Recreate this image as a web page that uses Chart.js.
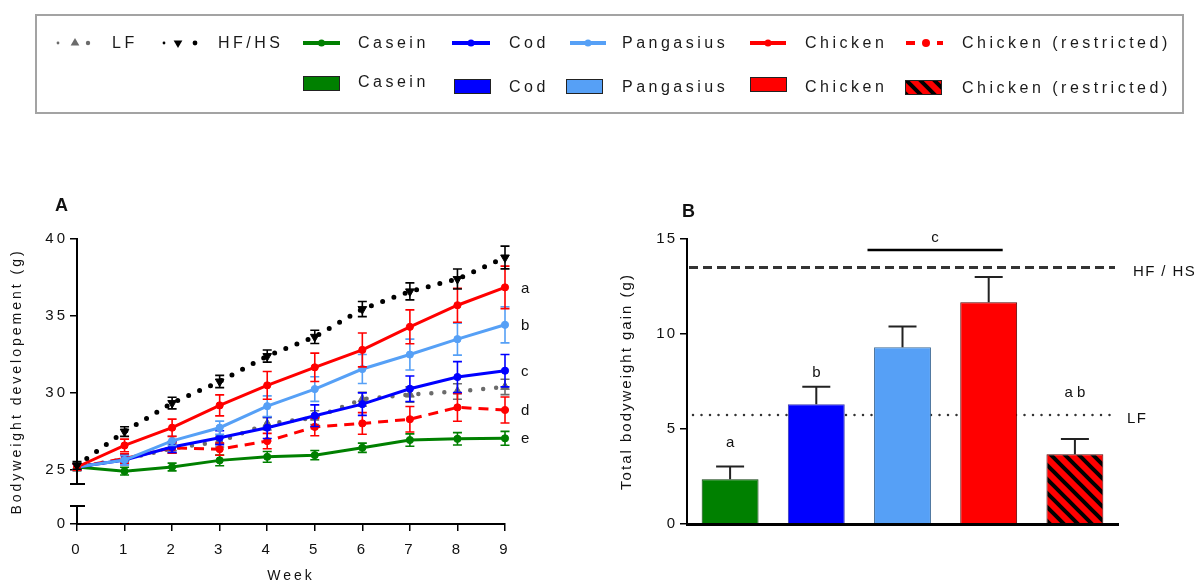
<!DOCTYPE html>
<html>
<head>
<meta charset="utf-8">
<script src="https://cdn.jsdelivr.net/npm/chart.js@4/dist/chart.umd.min.js"></script>
<style>
body{margin:0;background:#fff;width:1201px;height:581px;overflow:hidden;position:relative;font-family:"Liberation Sans",Arial,sans-serif}
#legendBox{position:absolute;left:35px;top:14px;width:1145px;height:96px;border:2px solid #a3a3a3;box-sizing:content-box}
#legendMarks{position:absolute;left:0;top:0}
.lbl{position:absolute;font-size:16px;letter-spacing:3.5px;color:#1a1a1a;white-space:nowrap;line-height:20px;transform:translateY(-50%)}
#chartA{position:absolute;left:0;top:190px}
#chartB{position:absolute;left:590px;top:190px}
</style>
</head>
<body>
<div id="legendBox"></div>
<canvas id="legendMarks" width="1201" height="120"></canvas>
<canvas id="chartA" width="560" height="391"></canvas>
<canvas id="chartB" width="611" height="391"></canvas>
<script>
// weekly body weight (g), mean and SD per diet
const weeks = ['0','1','2','3','4','5','6','7','8','9'];
const weightTicks = [25, 30, 35, 40];
const weightZero = 21.5;            // the "0" tick sits below the axis break
const axisBreak = [22.67, 24.1];    // gap cut out of the y axis

const lfMean = [25.2, 25.7, 26.4, 26.85, 28.0, 28.4, 29.6, 29.9, 30.1, 30.4];
const lfSd = [0.25, 0.3, 0.3, 0.35, 0.4, 0.45, 0.45, 0.5, 0.5, 0.5];
const hfMean = [25.3, 27.5, 29.35, 30.75, 32.4, 33.65, 35.45, 36.6, 37.4, 38.8];
const hfSd = [0.25, 0.31, 0.38, 0.4, 0.39, 0.43, 0.49, 0.55, 0.65, 0.74];
const caseinMean = [25.2, 24.93, 25.2, 25.63, 25.86, 25.97, 26.45, 26.95, 27.03, 27.06];
const caseinSd = [0.2, 0.25, 0.25, 0.35, 0.35, 0.3, 0.3, 0.4, 0.4, 0.45];
const codMean = [25.2, 25.65, 26.5, 27.1, 27.75, 28.53, 29.28, 30.28, 31.04, 31.45];
const codSd = [0.2, 0.3, 0.35, 0.45, 0.7, 0.7, 0.73, 0.83, 1.0, 1.05];
const pangasiusMean = [25.2, 25.65, 26.9, 27.75, 29.15, 30.26, 31.56, 32.5, 33.5, 34.43];
const pangasiusSd = [0.2, 0.3, 0.3, 0.43, 0.67, 0.8, 0.94, 1.0, 1.04, 1.17];
const chickenMean = [25.2, 26.6, 27.75, 29.2, 30.5, 31.67, 32.8, 34.3, 35.7, 36.86];
const chickenSd = [0.2, 0.41, 0.56, 0.68, 0.9, 0.92, 1.1, 1.1, 1.1, 1.38];
const restrictedMean = [25.2, 25.75, 26.45, 26.36, 26.88, 27.8, 28.03, 28.3, 29.07, 28.9];
const restrictedSd = [0.2, 0.3, 0.35, 0.4, 0.5, 0.57, 0.7, 0.83, 0.9, 0.84];
const endLetters = ['a', 'b', 'c', 'd', 'e'];   // chicken, pangasius, cod, restricted, casein

// total gain (g) per diet
const diets = ['Casein', 'Cod', 'Pangasius', 'Chicken', 'Chicken (restricted)'];
const gainMean = [2.35, 6.3, 9.3, 11.67, 3.67];
const gainSd = [0.67, 0.93, 1.1, 1.33, 0.8];
const gainTicks = [0, 5, 10, 15];
const hfGain = 13.5;
const lfGain = 5.74;
const gainLetters = ['a', 'b', '', '', 'a b'];
const gainLetterAt = [4.25, 7.96, null, null, 6.9];
const bracket = {label: 'c', from: 2, to: 3, at: 14.42};

const GREEN = '#008000', BLUE = '#0000ff', LIGHT = '#56a0f6', RED = '#ff0000';
const FONT = '"Liberation Sans", Arial, sans-serif';

function stripes(){
  const s = 14;
  const c = document.createElement('canvas');
  c.width = c.height = s;
  const g = c.getContext('2d');
  g.fillStyle = RED;
  g.fillRect(0, 0, s, s);
  g.strokeStyle = '#000';
  g.lineWidth = 4;
  g.beginPath();
  g.moveTo(-4, -4); g.lineTo(s + 4, s + 4);
  g.moveTo(-4, s - 4); g.lineTo(4, s + 4);
  g.moveTo(s - 4, -4); g.lineTo(s + 4, 4);
  g.stroke();
  return g.createPattern(c, 'repeat');
}

function spacing(px){
  return {
    id: 'spacing',
    beforeLayout(c){ c.ctx.letterSpacing = px; },
    beforeDraw(c){ c.ctx.letterSpacing = px; }
  };
}

// ---- legend ----
const legendLineX = [[57, 90], [163, 197], [303, 340], [452, 490], [570, 606], [750, 786], [905, 943]];
const legendTextX = [112, 218, 358, 509, 622, 805, 962];
const legendBoxX = [303, 454, 566, 750, 905];
const legendBoxY = [76, 79, 79, 77, 80];
const legendBoxTextX = [358, 509, 622, 805, 962];
const legendBoxTextY = [82, 87, 87, 87, 88];

function addLabel(text, x, y){
  const el = document.createElement('div');
  el.className = 'lbl';
  el.textContent = text;
  el.style.left = x + 'px';
  el.style.top = y + 'px';
  document.body.appendChild(el);
}

function drawLegend(){
  const g = document.getElementById('legendMarks').getContext('2d');
  const y = 43;
  const tri = (x, yy, r, down, color) => {
    g.fillStyle = color;
    g.beginPath();
    const d = down ? -1 : 1;
    g.moveTo(x, yy - d * r);
    g.lineTo(x + r * 0.87, yy + d * r * 0.5);
    g.lineTo(x - r * 0.87, yy + d * r * 0.5);
    g.closePath();
    g.fill();
  };
  const dot = (x, yy, r, color) => {
    g.fillStyle = color;
    g.beginPath(); g.arc(x, yy, r, 0, Math.PI * 2); g.fill();
  };
  // LF and HF/HS
  dot(58, y, 1.4, '#6b6b6b'); tri(75, y, 5, false, '#6b6b6b'); dot(88, y, 2.2, '#6b6b6b');
  dot(164, y, 1.4, '#000'); tri(178, y, 5, true, '#000'); dot(195, y, 2.4, '#000');
  // solid line series
  const lineColors = [GREEN, BLUE, LIGHT, RED];
  lineColors.forEach((col, i) => {
    const [a, b] = legendLineX[i + 2];
    g.strokeStyle = col; g.lineWidth = 4;
    g.beginPath(); g.moveTo(a, y); g.lineTo(b, y); g.stroke();
    dot((a + b) / 2, y, 3.5, col);
  });
  // restricted: dashed
  g.strokeStyle = RED; g.lineWidth = 4;
  g.beginPath(); g.moveTo(906, y); g.lineTo(915, y); g.moveTo(937, y); g.lineTo(943, y); g.stroke();
  dot(926, y, 4, RED);

  const fills = [GREEN, BLUE, LIGHT, RED, null];
  legendBoxX.forEach((x, i) => {
    const top = legendBoxY[i];
    g.fillStyle = fills[i] || stripes();
    g.fillRect(x, top, 37, 15);
    g.strokeStyle = '#222'; g.lineWidth = 1;
    g.strokeRect(x + 0.5, top + 0.5, 36, 14);
  });

  const topNames = ['LF', 'HF/HS'].concat(diets);
  topNames.forEach((t, i) => addLabel(t, legendTextX[i], y));
  diets.forEach((t, i) => addLabel(t, legendBoxTextX[i], legendBoxTextY[i]));
}
drawLegend();

// ---- panel A: weight over time ----
const errorBars = {
  id: 'errorBars',
  afterDatasetDraw(chart, args){
    const ds = chart.data.datasets[args.index];
    if (!ds.sd) return;
    const ctx = chart.ctx, y = chart.scales.y;
    ctx.save();
    ctx.strokeStyle = ds.errColor || ds.borderColor;
    ctx.lineWidth = 1.6;
    ctx.setLineDash([]);
    args.meta.data.forEach((pt, i) => {
      const hi = y.getPixelForValue(ds.data[i] + ds.sd[i]);
      const lo = y.getPixelForValue(ds.data[i] - ds.sd[i]);
      ctx.beginPath();
      ctx.moveTo(pt.x, hi); ctx.lineTo(pt.x, lo);
      ctx.moveTo(pt.x - 4.5, hi); ctx.lineTo(pt.x + 4.5, hi);
      ctx.moveTo(pt.x - 4.5, lo); ctx.lineTo(pt.x + 4.5, lo);
      ctx.stroke();
    });
    ctx.restore();
  }
};

const panelA = {
  id: 'panelA',
  afterDraw(chart){
    const ctx = chart.ctx, y = chart.scales.y, x = chart.scales.x;
    const ax = chart.chartArea.left;
    ctx.save();
    ctx.strokeStyle = '#000';
    ctx.lineWidth = 2;
    ctx.beginPath();
    ctx.moveTo(ax, y.getPixelForValue(40) - 1);
    ctx.lineTo(ax, y.getPixelForValue(axisBreak[1]));
    ctx.moveTo(ax, y.getPixelForValue(axisBreak[0]));
    ctx.lineTo(ax, y.getPixelForValue(weightZero));
    ctx.moveTo(ax - 7, y.getPixelForValue(axisBreak[1]));
    ctx.lineTo(ax + 8, y.getPixelForValue(axisBreak[1]));
    ctx.moveTo(ax - 7, y.getPixelForValue(axisBreak[0]));
    ctx.lineTo(ax + 8, y.getPixelForValue(axisBreak[0]));
    ctx.stroke();

    ctx.fillStyle = '#111';
    ctx.textBaseline = 'middle';
    ctx.letterSpacing = '0px';
    ctx.font = 'bold 18px ' + FONT;
    ctx.fillText('A', 55, 16);

    ctx.font = '15px ' + FONT;
    const ends = [chickenMean, pangasiusMean, codMean, restrictedMean, caseinMean];
    const xe = x.getPixelForValue(weeks.length - 1) + 16;
    ends.forEach((s, i) => ctx.fillText(endLetters[i], xe, y.getPixelForValue(s[s.length - 1]) + 1));
    ctx.restore();
  }
};

function series(label, data, sd, color, extra){
  return Object.assign({
    label, data, sd,
    borderColor: color, backgroundColor: color,
    pointBackgroundColor: color, pointBorderColor: color,
    borderWidth: 3, pointRadius: 3.6, pointBorderWidth: 1, tension: 0
  }, extra || {});
}

new Chart(document.getElementById('chartA'), {
  type: 'line',
  data: {
    labels: weeks,
    datasets: [
      series('HF/HS', hfMean, hfSd, '#000', {borderWidth: 5, borderDash: [0, 12], borderCapStyle: 'round', pointStyle: 'triangle', rotation: 180, pointRadius: 5}),
      series('Chicken', chickenMean, chickenSd, RED),
      series('Pangasius', pangasiusMean, pangasiusSd, LIGHT),
      series('Cod', codMean, codSd, BLUE),
      series('Chicken (restricted)', restrictedMean, restrictedSd, RED, {borderDash: [10, 7]}),
      series('Casein', caseinMean, caseinSd, GREEN),
      series('LF', lfMean, lfSd, '#6b6b6b', {borderWidth: 4.5, borderDash: [0, 13], borderCapStyle: 'round', pointStyle: 'triangle', pointRadius: 5})
    ]
  },
  options: {
    responsive: false,
    animation: false,
    devicePixelRatio: 1,
    layout: {padding: {top: 49, right: 55, left: 0, bottom: 0}},
    plugins: {legend: {display: false}, tooltip: {enabled: false}},
    scales: {
      x: {
        type: 'category',
        offset: false,
        grid: {drawOnChartArea: false, tickLength: 7, color: '#000', lineWidth: 1.5},
        border: {color: '#000', width: 2},
        ticks: {color: '#111', font: {size: 15, family: FONT}, padding: 10, maxRotation: 0},
        title: {display: true, text: 'Week', color: '#111', font: {size: 14, family: FONT}, padding: {top: 0, bottom: -4}},
        afterFit(s){ s.height = 57; }
      },
      y: {
        min: weightZero,
        max: 40,
        afterBuildTicks(s){ s.ticks = [weightZero].concat(weightTicks).map(v => ({value: v})); },
        grid: {drawOnChartArea: false, tickLength: 7, color: '#000', lineWidth: 1.5},
        border: {display: false},
        ticks: {color: '#111', font: {size: 15, family: FONT}, padding: 2, callback: v => v === weightZero ? '0' : v},
        title: {display: true, text: 'Bodyweight developement (g)', color: '#111', font: {size: 14, family: FONT}, padding: {top: 9, bottom: 0}},
        afterFit(s){ s.width = 77; }
      }
    }
  },
  plugins: [spacing('3px'), errorBars, panelA]
});

// ---- panel B: total gain ----
const panelB = {
  id: 'panelB',
  beforeDatasetsDraw(chart){
    const ctx = chart.ctx, y = chart.scales.y, area = chart.chartArea;
    ctx.save();
    ctx.strokeStyle = '#333';
    ctx.lineWidth = 3;
    ctx.setLineDash([9, 5]);
    ctx.beginPath();
    ctx.moveTo(area.left + 2, y.getPixelForValue(hfGain));
    ctx.lineTo(area.right - 3, y.getPixelForValue(hfGain));
    ctx.stroke();
    ctx.lineWidth = 2.5;
    ctx.lineCap = 'round';
    ctx.setLineDash([0, 8.5]);
    ctx.beginPath();
    ctx.moveTo(area.left + 6, y.getPixelForValue(lfGain));
    ctx.lineTo(area.right - 1, y.getPixelForValue(lfGain));
    ctx.stroke();
    ctx.restore();
  },
  afterDatasetsDraw(chart){
    const ctx = chart.ctx, y = chart.scales.y, x = chart.scales.x, area = chart.chartArea;
    ctx.save();
    ctx.strokeStyle = '#222';
    ctx.lineWidth = 2;
    gainMean.forEach((v, i) => {
      const cx = x.getPixelForValue(i);
      const top = y.getPixelForValue(v), hi = y.getPixelForValue(v + gainSd[i]);
      ctx.beginPath();
      ctx.moveTo(cx, top); ctx.lineTo(cx, hi);
      ctx.moveTo(cx - 14, hi); ctx.lineTo(cx + 14, hi);
      ctx.stroke();
    });

    ctx.strokeStyle = '#000';
    ctx.lineWidth = 2.5;
    const by = y.getPixelForValue(bracket.at);
    const bx0 = x.getPixelForValue(bracket.from) - 35, bx1 = x.getPixelForValue(bracket.to) + 14;
    ctx.beginPath(); ctx.moveTo(bx0, by); ctx.lineTo(bx1, by); ctx.stroke();

    ctx.fillStyle = '#111';
    ctx.textBaseline = 'middle';
    ctx.textAlign = 'center';
    ctx.font = '15px ' + FONT;
    ctx.letterSpacing = '0px';
    ctx.fillText(bracket.label, (bx0 + bx1) / 2, by - 12);
    gainLetters.forEach((t, i) => {
      if (t) ctx.fillText(t, x.getPixelForValue(i), y.getPixelForValue(gainLetterAt[i]));
    });

    ctx.textAlign = 'left';
    ctx.letterSpacing = '1.4px';
    ctx.fillText('HF / HS', area.right + 15, y.getPixelForValue(hfGain) + 4);
    ctx.fillText('LF', area.right + 9, y.getPixelForValue(lfGain) + 4);

    ctx.letterSpacing = '0px';
    ctx.font = 'bold 18px ' + FONT;
    ctx.fillText('B', 92, 22);
    ctx.restore();
  }
};

new Chart(document.getElementById('chartB'), {
  type: 'bar',
  data: {
    labels: diets,
    datasets: [{
      data: gainMean,
      backgroundColor: [GREEN, BLUE, LIGHT, RED, stripes()],
      borderColor: ['#0b3b0b', '#3a3ab0', '#3d6a96', '#5a0000', '#5a0000'],
      borderWidth: 1,
      barPercentage: 0.66,
      categoryPercentage: 1
    }]
  },
  options: {
    responsive: false,
    animation: false,
    devicePixelRatio: 1,
    layout: {padding: {top: 49, right: 83, left: 0, bottom: 0}},
    plugins: {legend: {display: false}, tooltip: {enabled: false}},
    scales: {
      x: {
        grid: {display: false},
        border: {color: '#000', width: 3, z: 1},
        ticks: {display: false},
        afterFit(s){ s.height = 57; }
      },
      y: {
        min: 0,
        max: 15,
        afterBuildTicks(s){ s.ticks = gainTicks.map(v => ({value: v})); },
        grid: {drawOnChartArea: false, tickLength: 7, color: '#000', lineWidth: 1.5},
        border: {color: '#000', width: 2},
        ticks: {color: '#111', font: {size: 15, family: FONT}, padding: 3},
        title: {display: true, text: 'Total bodyweight gain (g)', color: '#111', font: {size: 15, family: FONT}, padding: {top: 28, bottom: 0}},
        afterFit(s){ s.width = 97; }
      }
    }
  },
  plugins: [spacing('2px'), panelB]
});
</script>
</body>
</html>
